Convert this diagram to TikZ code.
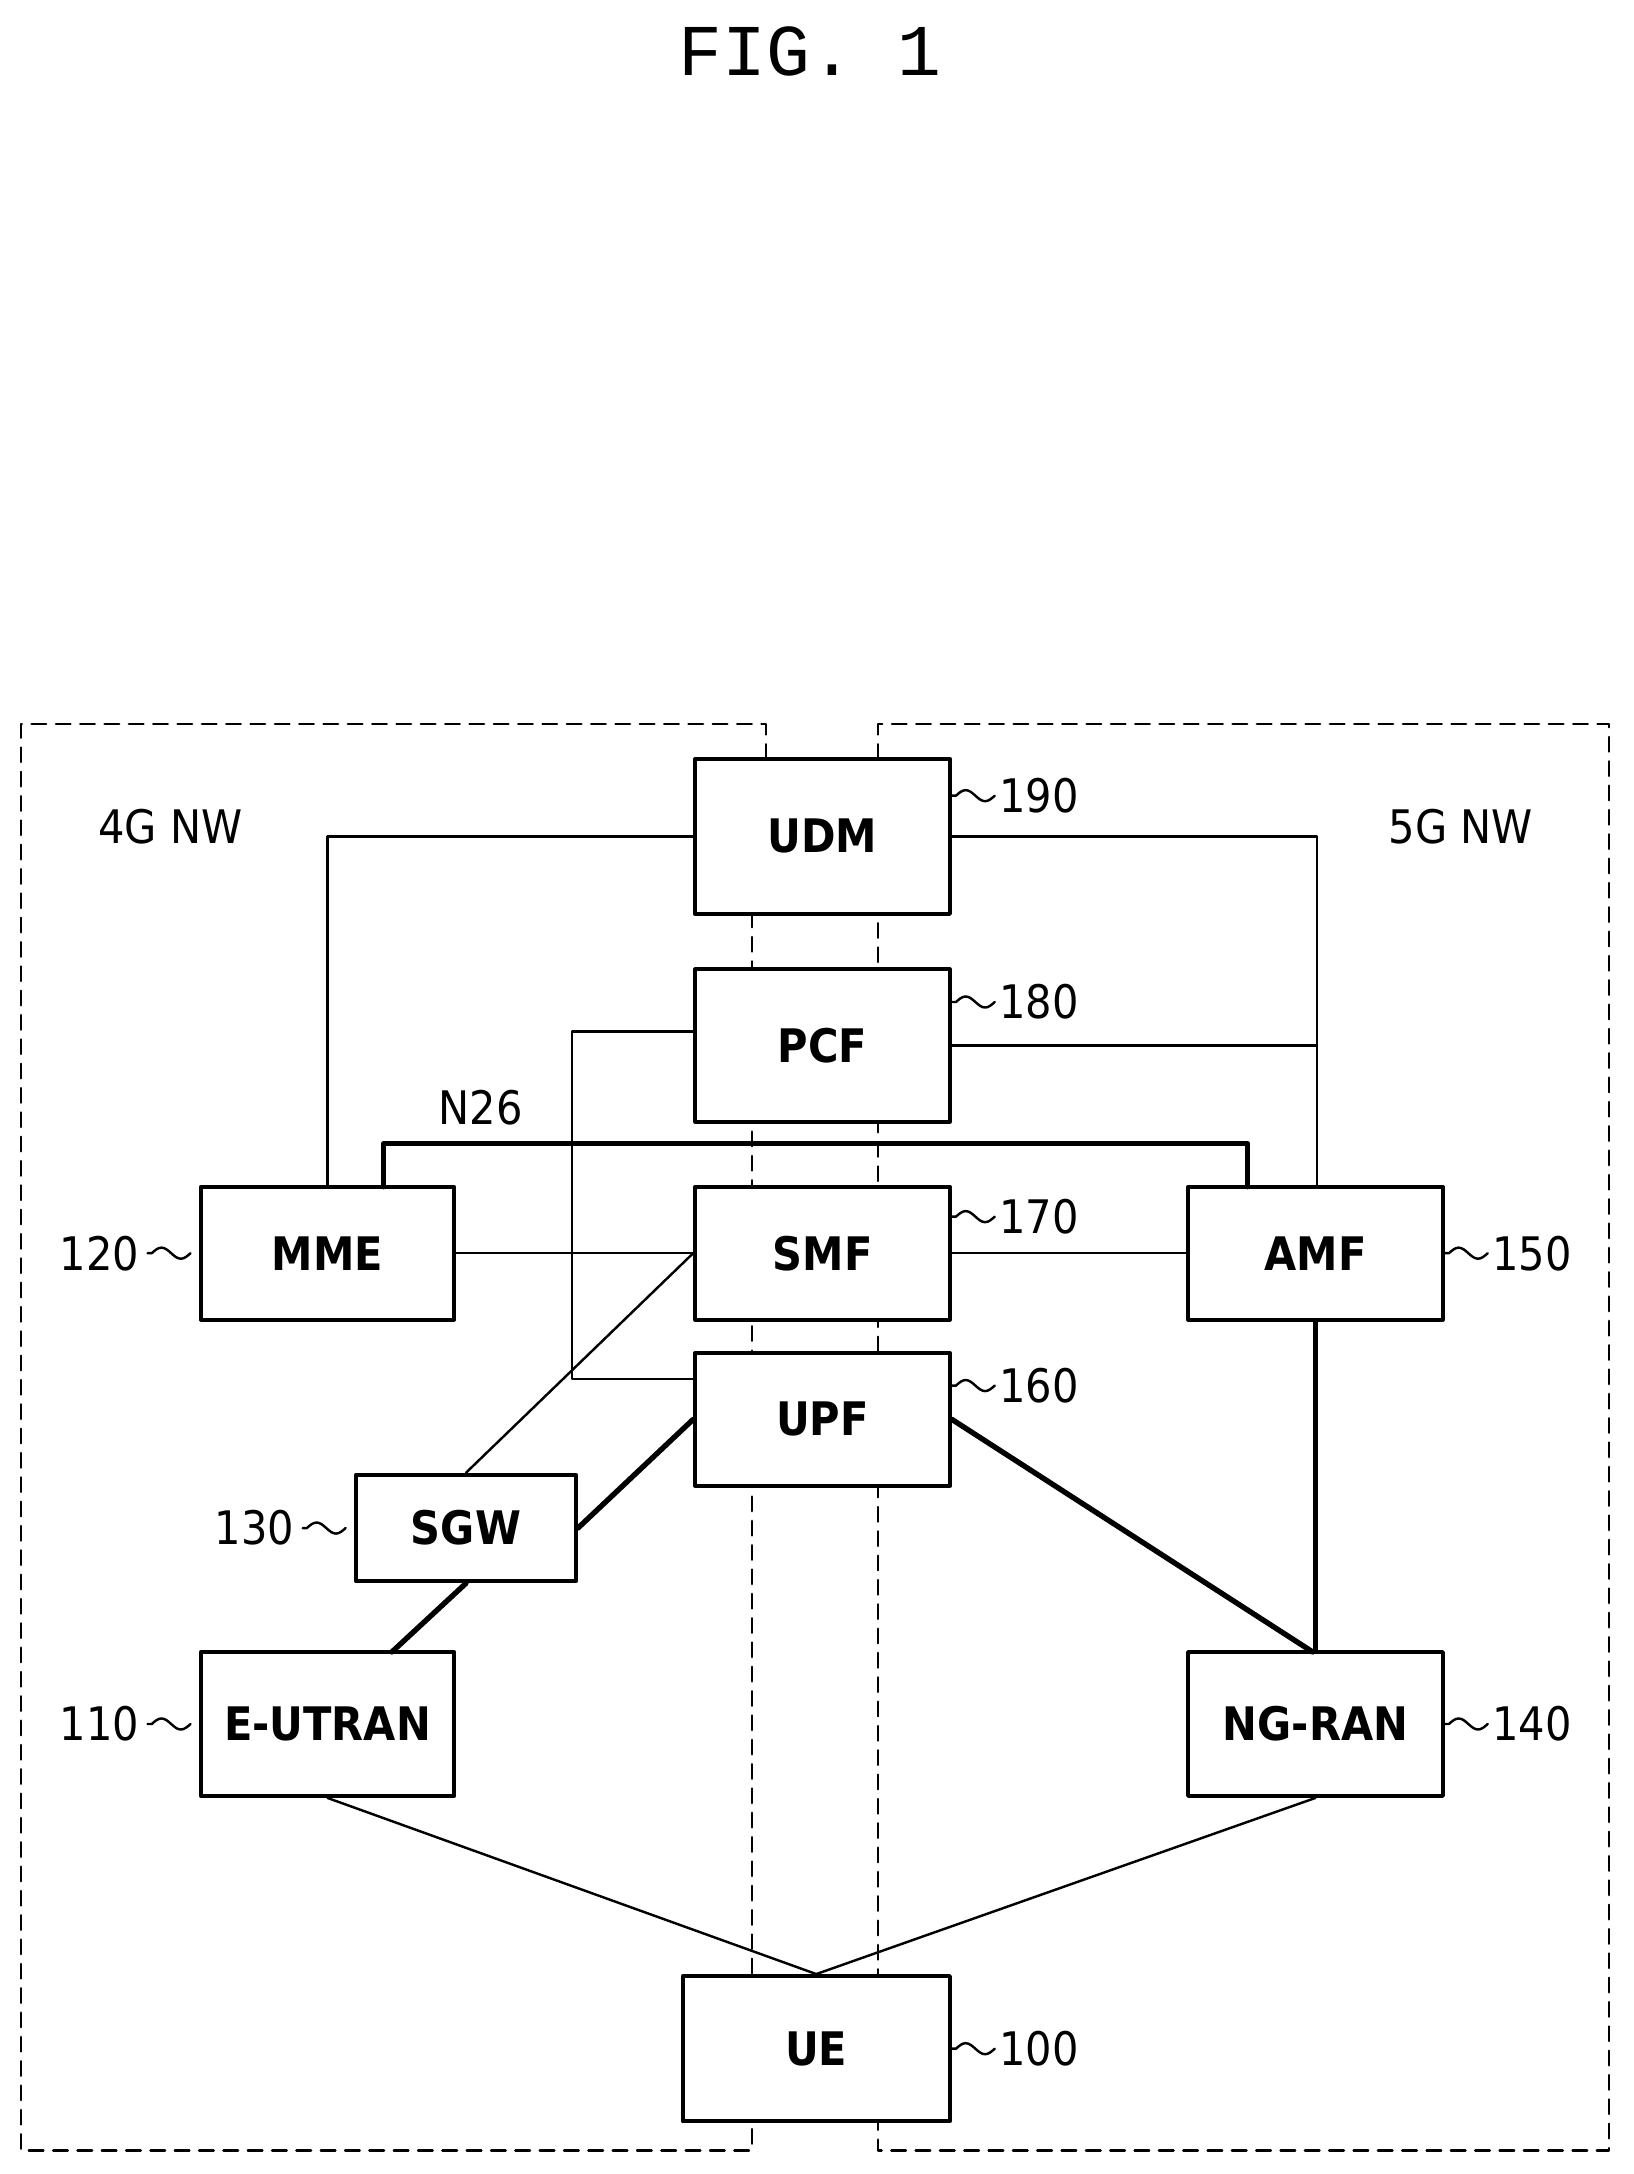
\documentclass[tikz,border=0pt]{standalone}
\usepackage{fontspec}
\setmainfont{DejaVu Sans Condensed}
\newfontfamily\figfont{Liberation Mono}
\usetikzlibrary{positioning}
\tikzset{
  box/.style={draw,line width=1.6pt,fill=white,inner sep=0pt,font=\bfseries\fontsize{19}{22}\selectfont},
  region/.style={dashed,line width=1pt,dash pattern=on 6pt off 4pt},
  thin/.style={line width=1pt},
  thick/.style={line width=2.2pt},
  ref/.style={font=\fontsize{19}{22}\selectfont},
}
\newcommand{\wig}[1]{-- ++(3,0) sin ++(7,-4) cos ++(7,4) sin ++(7,4) cos ++(7,-4)}
\begin{document}
\begin{tikzpicture}[x=0.02cm,y=-0.02cm,line cap=round,line join=round]
\useasboundingbox (0,0) rectangle (1180,1570);
\node[font=\figfont\fontsize{30}{34}\selectfont] (title) at (585,37) {FIG. 1};

% dashed network regions
\draw[region] (553,548) -- (553,523) -- (15,523) -- (15,1553) -- (543,1553) -- (543,660);
\draw[region] (634,548) -- (634,523) -- (1162,523) -- (1162,1553) -- (634,1553) -- (634,660);

% boxes
\node[box,minimum width=3.68cm,minimum height=2.24cm] (udm) at (594,604) {UDM};
\node[box,minimum width=3.68cm,minimum height=2.2cm] (pcf) at (594,755) {PCF};
\node[box,minimum width=3.68cm,minimum height=1.92cm] (smf) at (594,905) {SMF};
\node[box,minimum width=3.68cm,minimum height=1.92cm] (upf) at (594,1025) {UPF};
\node[box,minimum width=3.66cm,minimum height=1.92cm] (mme) at (236.5,905) {MME};
\node[box,minimum width=3.68cm,minimum height=1.92cm] (amf) at (950,905) {AMF};
\node[box,minimum width=3.18cm,minimum height=1.54cm] (sgw) at (336.5,1103.5) {SGW};
\node[box,minimum width=3.66cm,minimum height=2.08cm] (eutran) at (236.5,1245) {E-UTRAN};
\node[box,minimum width=3.68cm,minimum height=2.08cm] (ngran) at (950,1245) {NG-RAN};
\node[box,minimum width=3.86cm,minimum height=2.1cm] (ue) at (589.5,1479.5) {UE};

\node[ref] (nw4) at (123,597) {4G NW};
\node[ref] (nw5) at (1055,597) {5G NW};
\node[ref] (n26) at (347,800) {N26};

% reference numerals
\draw[thin] (udm.north east) ++(0,28) \wig{} node[ref,right=-2pt] (r190) {190};
\draw[thin] (pcf.north east) ++(0,25) \wig{} node[ref,right=-2pt] (r180) {180};
\draw[thin] (smf.north east) ++(0,23) \wig{} node[ref,right=-2pt] (r170) {170};
\draw[thin] (upf.north east) ++(0,25) \wig{} node[ref,right=-2pt] (r160) {160};
\draw[thin] (ue.east) \wig{} node[ref,right=-2pt] (r100) {100};
\draw[thin] (amf.east) \wig{} node[ref,right=-2pt] (r150) {150};
\draw[thin] (ngran.east) \wig{} node[ref,right=-2pt] (r140) {140};
\draw[thin] (mme.west) ++(-37,0) \wig{} coordinate (c120);
\node[ref,left=0pt] (r120) at ([xshift=-37*0.02cm]mme.west) {120};
\draw[thin] (sgw.west) ++(-37,0) \wig{} coordinate (c130);
\node[ref,left=0pt] (r130) at ([xshift=-37*0.02cm]sgw.west) {130};
\draw[thin] (eutran.west) ++(-37,0) \wig{} coordinate (c110);
\node[ref,left=0pt] (r110) at ([xshift=-37*0.02cm]eutran.west) {110};

% connections
\draw[thin] (udm.west) -- (mme.north |- udm.west) -- (mme.north);
\draw[thin] (udm.east) -- (951,604) -- (951,857);
\draw[thin] (pcf.west) ++(0,-10) -- (413,745) -- (413,996) -- (upf.west |- 0,996);
\draw[thin] (pcf.east) -- (951,755);
\draw[thick] (277,857) -- (277,826) -- (901,826) -- (901,857);
\draw[thin] (mme.east) -- (smf.west);
\draw[thin] (smf.east) -- (amf.west);
\draw[thin] (smf.west) -- (sgw.north);
\draw[thick] (upf.west) -- (sgw.east);
\draw[thick] (sgw.south) -- (283,1193);
\draw[thick] (upf.east) -- (948,1193);
\draw[thick] (amf.south) -- (ngran.north);
\draw[thin] (eutran.south) -- (ue.north);
\draw[thin] (ngran.south) -- (ue.north);
\end{tikzpicture}
\end{document}
